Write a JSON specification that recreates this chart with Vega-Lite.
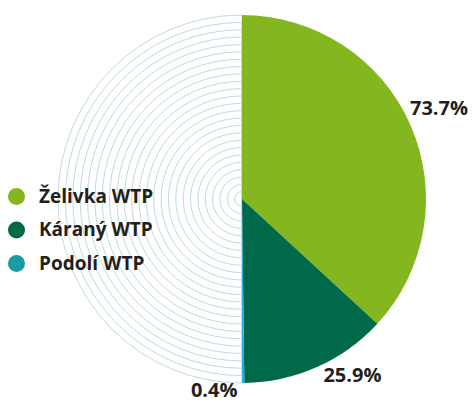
{
  "$schema": "https://vega.github.io/schema/vega-lite/v6.json",
  "width": 460,
  "height": 398,
  "autosize": {"type": "none"},
  "padding": {"left": 12, "top": 0, "right": 0, "bottom": 5},
  "background": "white",
  "config": {"view": {"stroke": null}, "font": "Open Sans"},
  "datasets": {
    "plants": [
      {"plant": "Želivka WTP", "share": 73.7, "label": "73.7%", "rank": 1},
      {"plant": "Káraný WTP", "share": 25.9, "label": "25.9%", "rank": 2},
      {"plant": "Podolí WTP", "share": 0.4, "label": "0.4%", "rank": 3}
    ],
    "rings": [
      {"ring": 1}, {"ring": 2}, {"ring": 3}, {"ring": 4}, {"ring": 5},
      {"ring": 6}, {"ring": 7}, {"ring": 8}, {"ring": 9}, {"ring": 10},
      {"ring": 11}, {"ring": 12}, {"ring": 13}, {"ring": 14}, {"ring": 15},
      {"ring": 16}, {"ring": 17}, {"ring": 18}, {"ring": 19}, {"ring": 20},
      {"ring": 21}, {"ring": 22}, {"ring": 23}, {"ring": 24}, {"ring": 25}
    ]
  },
  "layer": [
    {
      "data": {"name": "rings"},
      "mark": {"type": "arc", "filled": false, "stroke": "#c2d9e0", "strokeWidth": 1},
      "encoding": {
        "theta": {"value": 3.14159},
        "theta2": {"value": 6.28318},
        "radius": {"field": "ring", "type": "quantitative", "stack": null, "scale": {"type": "linear", "domain": [0, 25], "range": [0, 184], "zero": true}}
      }
    },
    {
      "data": {"name": "plants"},
      "mark": {"type": "arc", "outerRadius": 184},
      "encoding": {
        "theta": {"field": "share", "type": "quantitative", "stack": true, "scale": {"range": [0, 3.14159]}},
        "order": {"field": "rank", "type": "ordinal"},
        "color": {"field": "plant", "type": "nominal", "legend": null,
          "scale": {"domain": ["Želivka WTP", "Káraný WTP", "Podolí WTP"], "range": ["#84b71f", "#00694a", "#1ab2e8"]}}
      }
    },
    {
      "data": {"name": "plants"},
      "mark": {"type": "point", "filled": true, "opacity": 0},
      "encoding": {
        "theta": {"field": "share", "type": "quantitative", "stack": true, "scale": {"range": [0, 3.14159]}},
        "order": {"field": "rank", "type": "ordinal"},
        "color": {"field": "plant", "type": "nominal",
          "scale": {"domain": ["Želivka WTP", "Káraný WTP", "Podolí WTP"], "range": ["#84b71f", "#00694a", "#1b9aa3"]},
          "legend": {
            "title": null, "orient": "none", "legendX": -5, "legendY": 187,
            "symbolType": "circle", "symbolSize": 290, "symbolOpacity": 1, "symbolStrokeWidth": 0,
            "labelFont": "Open Sans", "labelFontSize": 19, "labelFontWeight": "bold", "labelColor": "#231f20",
            "labelOffset": 13, "rowPadding": 13.5, "padding": 0
          }
        }
      }
    },
    {
      "data": {"name": "plants"},
      "mark": {"type": "text", "radius": 214, "dx": 1, "dy": -4, "font": "Open Sans", "fontSize": 20, "fontWeight": "bold", "color": "#231f20"},
      "encoding": {
        "theta": {"field": "share", "type": "quantitative", "stack": true, "scale": {"range": [0, 3.14159]}},
        "order": {"field": "rank", "type": "ordinal"},
        "text": {"condition": {"test": "datum.rank === 1", "field": "label"}, "value": ""}
      }
    },
    {
      "data": {"name": "plants"},
      "mark": {"type": "text", "radius": 200, "dx": 29, "dy": -6, "font": "Open Sans", "fontSize": 20, "fontWeight": "bold", "color": "#231f20"},
      "encoding": {
        "theta": {"field": "share", "type": "quantitative", "stack": true, "scale": {"range": [0, 3.14159]}},
        "order": {"field": "rank", "type": "ordinal"},
        "text": {"condition": {"test": "datum.rank === 2", "field": "label"}, "value": ""}
      }
    },
    {
      "data": {"name": "plants"},
      "mark": {"type": "text", "radius": 192, "dx": -29, "dy": 0, "font": "Open Sans", "fontSize": 20, "fontWeight": "bold", "color": "#231f20"},
      "encoding": {
        "theta": {"field": "share", "type": "quantitative", "stack": true, "scale": {"range": [0, 3.14159]}},
        "order": {"field": "rank", "type": "ordinal"},
        "text": {"condition": {"test": "datum.rank === 3", "field": "label"}, "value": ""}
      }
    }
  ],
  "resolve": {"scale": {"color": "independent"}}
}
